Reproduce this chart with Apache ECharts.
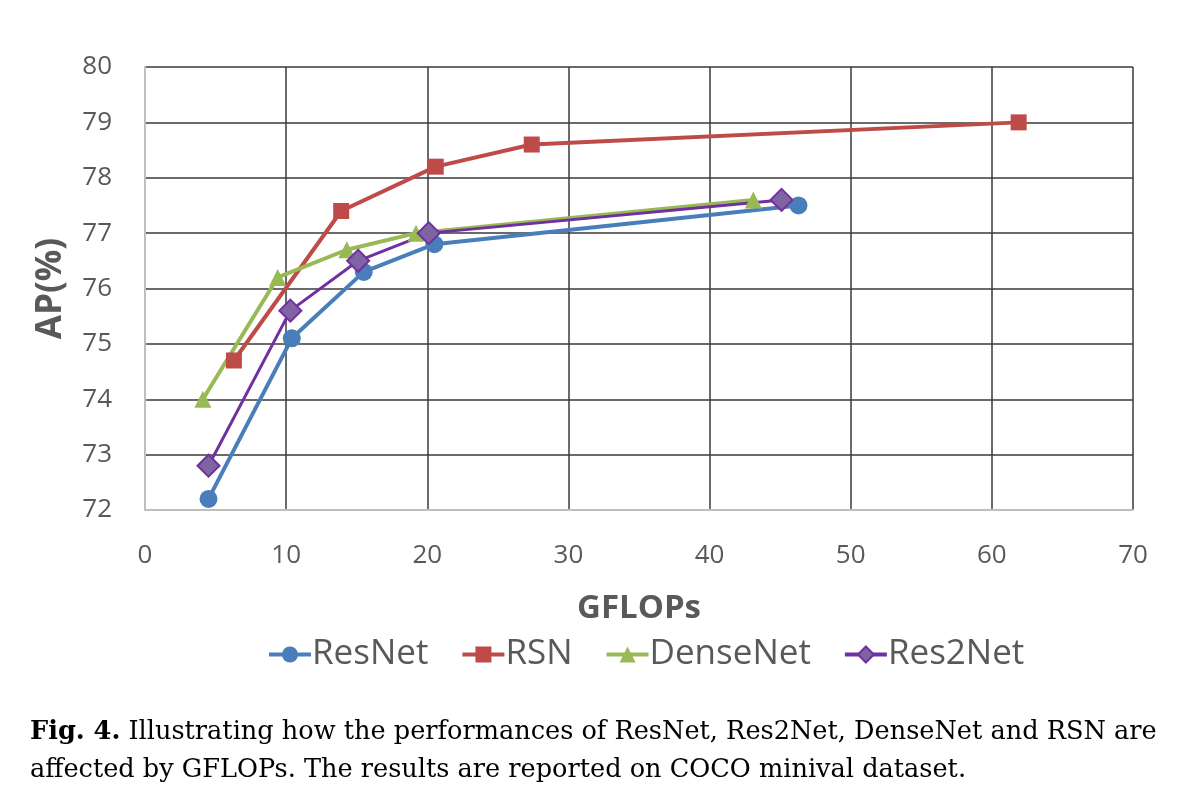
<!DOCTYPE html>
<html><head><meta charset="utf-8">
<script src="https://cdn.jsdelivr.net/npm/echarts@6/dist/echarts.min.js"></script>
<style>html,body{margin:0;padding:0;background:#fff}#c{width:1182px;height:796px}</style>
</head><body><div id="c"></div>
<script>
const seriesNames = ['ResNet', 'RSN', 'DenseNet', 'Res2Net'];
const resnet   = [[4.5, 72.2], [10.4, 75.1], [15.5, 76.3], [20.5, 76.8], [46.3, 77.5]];
const rsn      = [[6.3, 74.7], [13.9, 77.4], [20.6, 78.2], [27.4, 78.6], [61.9, 79.0]];
const densenet = [[4.1, 74.0], [9.4, 76.2], [14.3, 76.7], [19.2, 77.0], [43.1, 77.6]];
const res2net  = [[4.5, 72.8], [10.3, 75.6], [15.1, 76.5], [20.1, 77.0], [45.1, 77.6]];
const captionLine1 = 'Illustrating how the performances of ResNet, Res2Net, DenseNet and RSN are';
const captionLine2 = 'affected by GFLOPs. The results are reported on COCO minival dataset.';

const chart = echarts.init(document.getElementById('c'), null, {renderer: 'canvas'});
const font = '"Open Sans", sans-serif';
const serif = '"DejaVu Serif", serif';
function mk(name, data, color, symbol, size, lineColor, borderColor, lw) {
  return {
    name, type: 'line', data, symbol, symbolSize: size,
    lineStyle: {color: lineColor || color, width: lw || 4},
    itemStyle: {color: color, borderColor: borderColor || color, borderWidth: borderColor ? 2 : 0},
    emphasis: {disabled: true}, animation: false
  };
}
chart.setOption({
  backgroundColor: '#fff',
  grid: {left: 145, right: 49, top: 67, bottom: 286},
  xAxis: {
    type: 'value', min: 0, max: 70, interval: 10,
    name: 'GFLOPs', nameLocation: 'middle', nameGap: 82,
    nameTextStyle: {fontFamily: font, fontSize: 33, fontWeight: 'bold', color: '#595959'},
    axisLine: {show: true, lineStyle: {color: '#bfbfbf', width: 2}},
    axisTick: {show: false},
    axisLabel: {fontFamily: font, fontSize: 26, color: '#595959', margin: 33},
    splitLine: {show: true, lineStyle: {color: '#3a3a3a', width: 1.5}}
  },
  yAxis: {
    type: 'value', min: 72, max: 80, interval: 1,
    name: 'AP(%)', nameLocation: 'middle', nameGap: 76,
    nameTextStyle: {fontFamily: font, fontSize: 35, fontWeight: 'bold', color: '#595959'},
    axisLine: {show: true, lineStyle: {color: '#bfbfbf', width: 2}},
    axisTick: {show: false},
    axisLabel: {fontFamily: font, fontSize: 26, color: '#595959', margin: 33},
    splitLine: {show: true, lineStyle: {color: '#3a3a3a', width: 1.5}}
  },
  legend: {
    data: seriesNames, top: 632, left: 262, itemGap: 32, itemWidth: 42, itemHeight: 20,
    lineStyle: {width: 4},
    textStyle: {fontFamily: font, fontSize: 35, color: '#595959', padding: [0, 0, 0, -4]}
  },
  series: [
    mk('ResNet', resnet, '#4a7ebb', 'circle', 18),
    mk('RSN', rsn, '#be4b48', 'rect', 16),
    mk('DenseNet', densenet, '#98b954', 'triangle', 17),
    mk('Res2Net', res2net, '#8064a2', 'diamond', 22, '#7030a0', '#7030a0', 3)
  ],
  graphic: [
    {type: 'text', left: 30, top: 719, style: {
      text: '{b|Fig. 4.} ' + captionLine1,
      rich: {b: {fontWeight: 'bold', fontFamily: serif, fontSize: 25.6, fill: '#000'}},
      fontFamily: serif, fontSize: 25.6, fill: '#000'}},
    {type: 'text', left: 30, top: 757, style: {
      text: captionLine2, fontFamily: serif, fontSize: 25.6, fill: '#000'}}
  ]
});
</script></body></html>
